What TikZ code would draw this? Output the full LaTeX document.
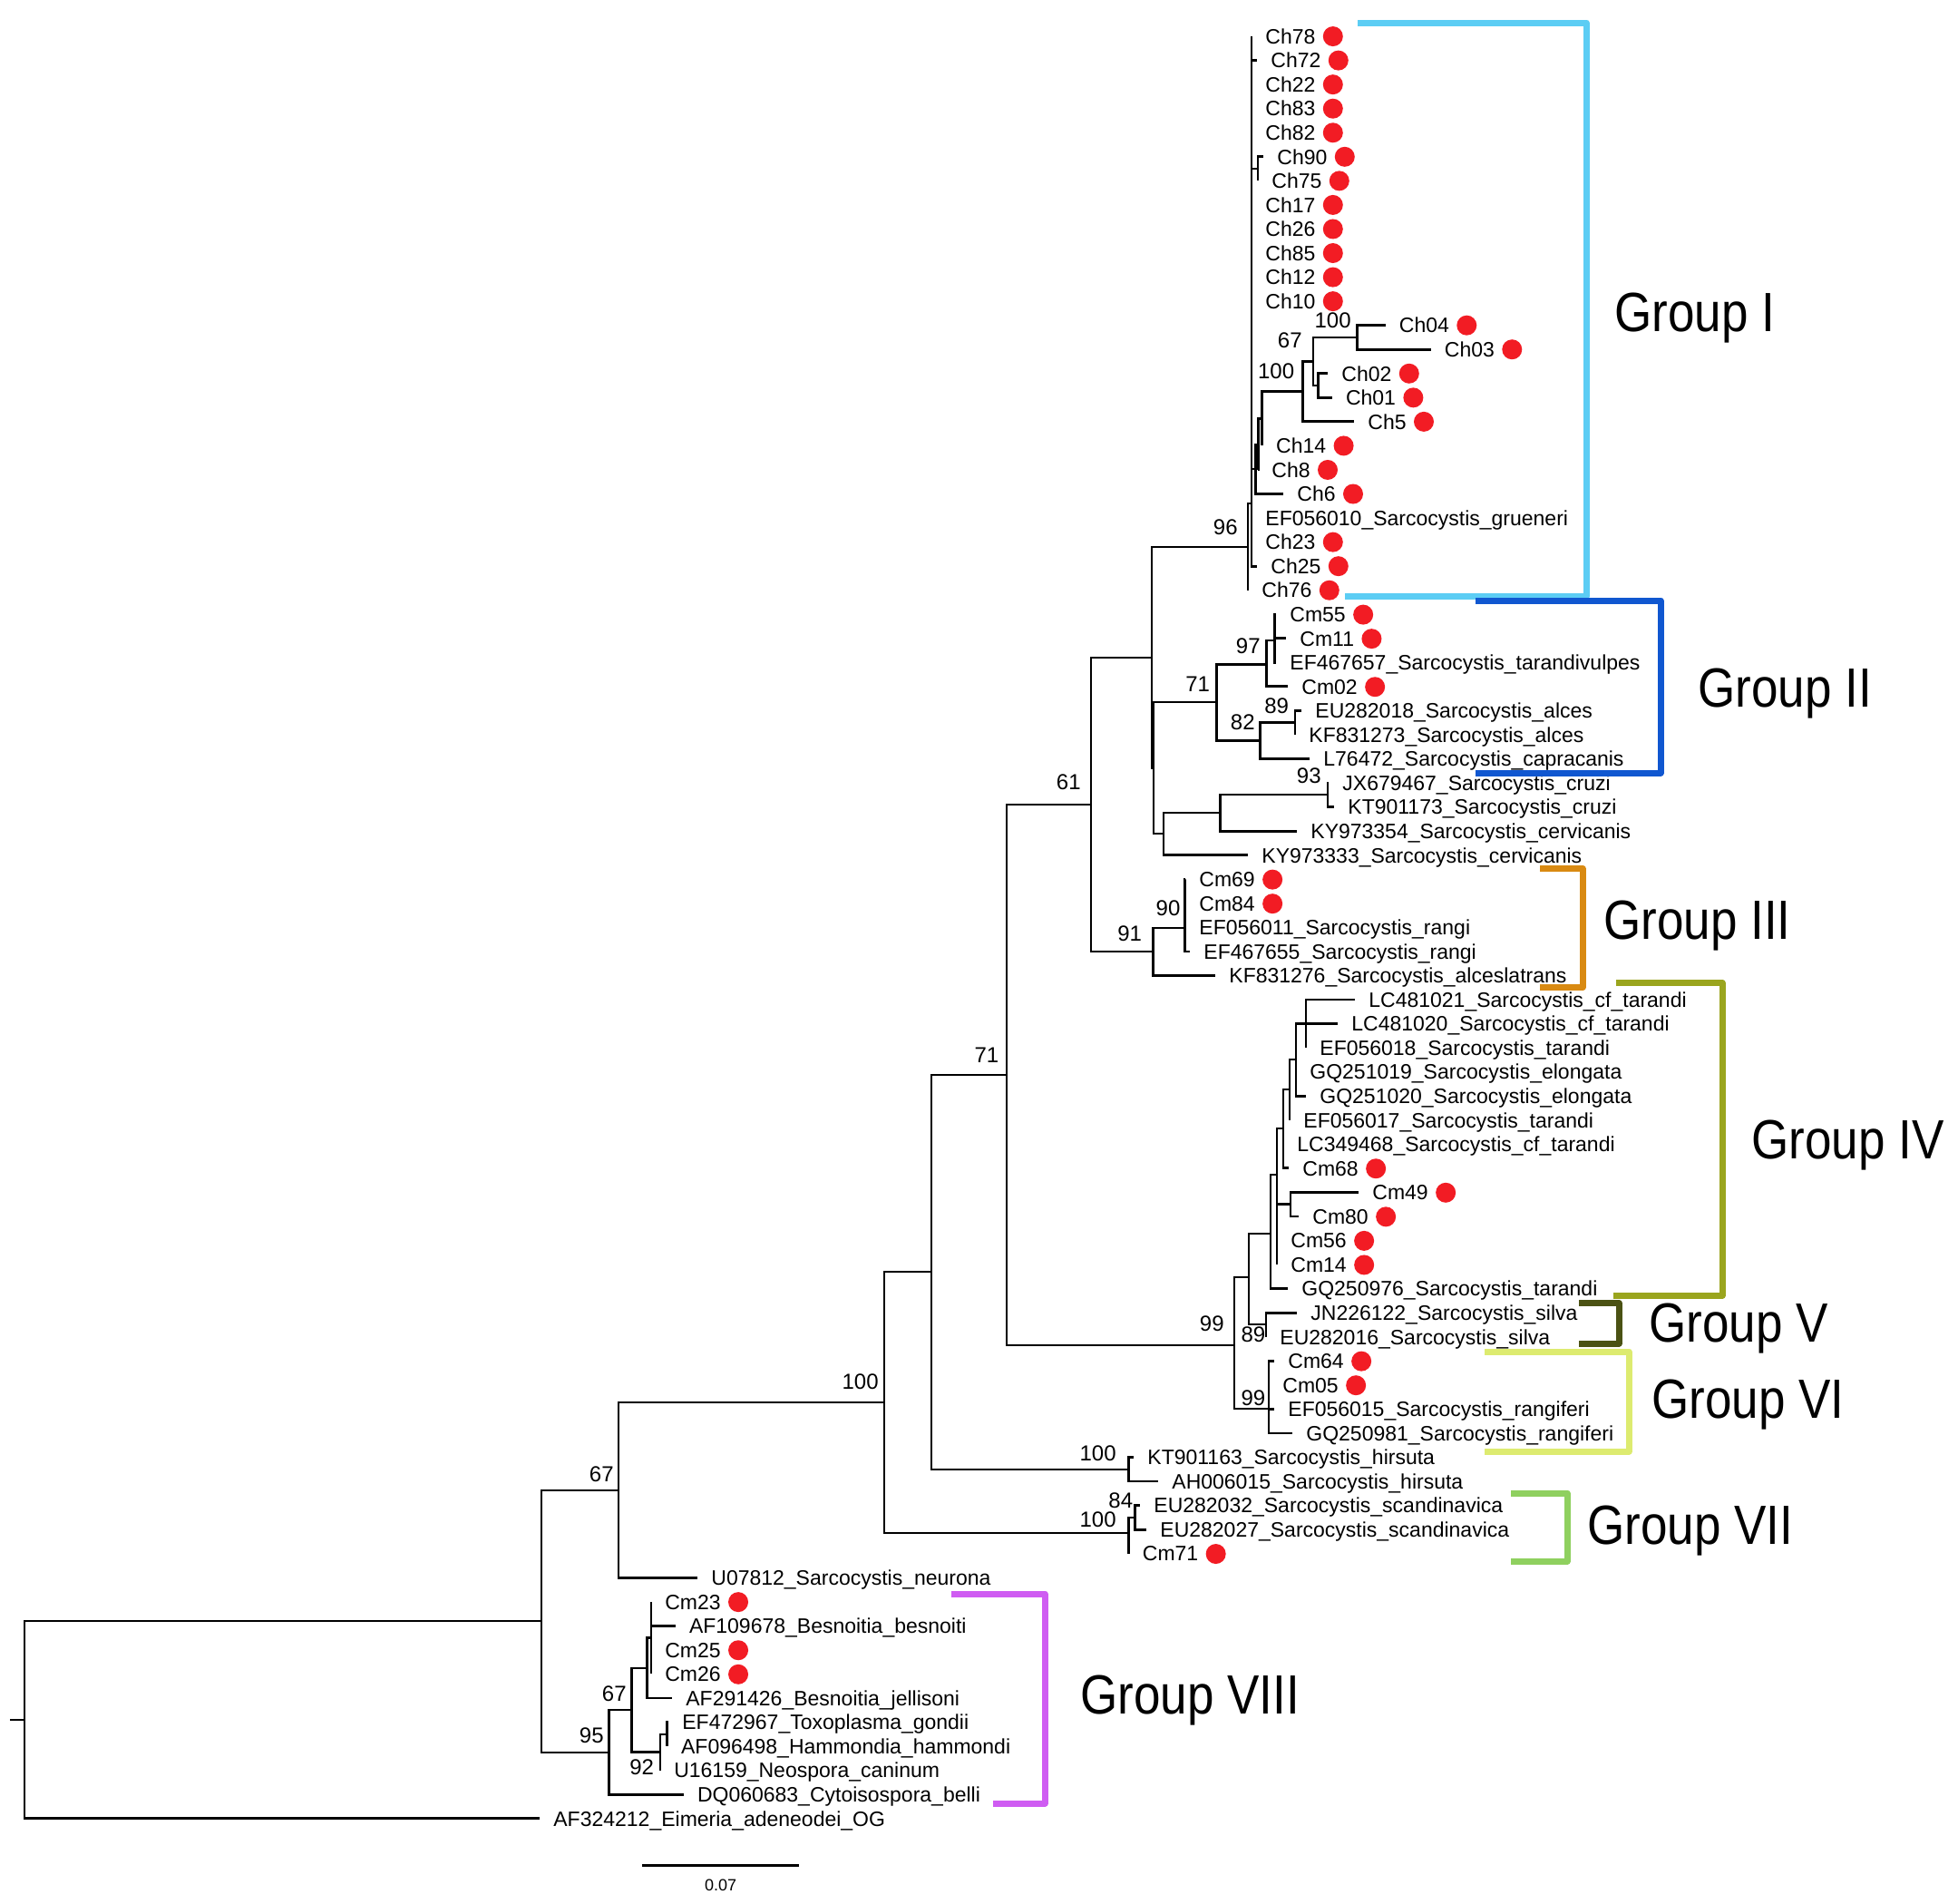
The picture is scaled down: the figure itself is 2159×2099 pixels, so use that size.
\documentclass[tikz,border=0pt]{standalone}
\usepackage{fontspec}
\setmainfont{Liberation Sans}
\usetikzlibrary{calc}
\definecolor{dotred}{RGB}{242,28,36}
\definecolor{gI}{RGB}{92,205,244}
\definecolor{gII}{RGB}{16,87,208}
\definecolor{gIII}{RGB}{217,138,18}
\definecolor{gIV}{RGB}{154,165,30}
\definecolor{gV}{RGB}{75,82,20}
\definecolor{gVI}{RGB}{221,235,112}
\definecolor{gVII}{RGB}{143,208,95}
\definecolor{gVIII}{RGB}{207,92,242}
\newcommand\leaf[5]{%
  \coordinate (#1) at (#3,{40+26.55*#2});
  \node[lbl] (#1t) at ({#3+15},{48.3+26.55*#2}) {#4};
  \ifnum#5=1\relax \node[dot] (#1d) at ([xshift=9.5pt]#1t.east) {};\fi
}
\newcommand\edges[2]{\foreach \c in {#2} {\draw[br] (#1) |- (\c);}}
\newcommand\glabel[4]{\node[glab] (#1) at (#2,#3) {\scalebox{1}[1.15]{#4}};}
\begin{document}
\begin{tikzpicture}[x=0.5pt,y=-0.5pt,
  br/.style={line width=1.4pt},
  lbl/.style={anchor=base west, inner sep=0pt, font=\fontsize{11.5}{13}\selectfont},
  bs/.style={anchor=east, inner sep=0pt, font=\fontsize{12}{14}\selectfont},
  dot/.style={circle, fill=dotred, inner sep=0pt, minimum size=11pt},
  grp/.style={line width=3.5pt, line join=round},
  glab/.style={anchor=base west, inner sep=0pt, font=\fontsize{26.5}{30}\selectfont}
]
\fill[white] (0,0) rectangle (2159,2099);
\useasboundingbox (0,0) rectangle (2159,2099);

% ---------- leaves ----------
\leaf{Ch78}{0}{1380}{Ch78}{1}
\leaf{Ch72}{1}{1386}{Ch72}{1}
\leaf{Ch22}{2}{1380}{Ch22}{1}
\leaf{Ch83}{3}{1380}{Ch83}{1}
\leaf{Ch82}{4}{1380}{Ch82}{1}
\leaf{Ch90}{5}{1393}{Ch90}{1}
\leaf{Ch75}{6}{1387}{Ch75}{1}
\leaf{Ch17}{7}{1380}{Ch17}{1}
\leaf{Ch26}{8}{1380}{Ch26}{1}
\leaf{Ch85}{9}{1380}{Ch85}{1}
\leaf{Ch12}{10}{1380}{Ch12}{1}
\leaf{Ch10}{11}{1380}{Ch10}{1}
\leaf{Ch04}{12}{1527.5}{Ch04}{1}
\leaf{Ch03}{13}{1577.5}{Ch03}{1}
\leaf{Ch02}{14}{1464}{Ch02}{1}
\leaf{Ch01}{15}{1468.6}{Ch01}{1}
\leaf{Ch5}{16}{1493}{Ch5}{1}
\leaf{Ch14}{17}{1391.8}{Ch14}{1}
\leaf{Ch8}{18}{1387}{Ch8}{1}
\leaf{Ch6}{19}{1415}{Ch6}{1}
\leaf{EFgru}{20}{1380}{EF056010\_Sarcocystis\_grueneri}{0}
\leaf{Ch23}{21}{1380}{Ch23}{1}
\leaf{Ch25}{22}{1386}{Ch25}{1}
\leaf{Ch76}{23}{1376}{Ch76}{1}
\leaf{Cm55}{24}{1407}{Cm55}{1}
\leaf{Cm11}{25}{1418}{Cm11}{1}
\leaf{EFtar}{26}{1407}{EF467657\_Sarcocystis\_tarandivulpes}{0}
\leaf{Cm02}{27}{1420}{Cm02}{1}
\leaf{EUalc}{28}{1435}{EU282018\_Sarcocystis\_alces}{0}
\leaf{KFalc}{29}{1428}{KF831273\_Sarcocystis\_alces}{0}
\leaf{Lcap}{30}{1444}{L76472\_Sarcocystis\_capracanis}{0}
\leaf{JXcru}{31}{1465}{JX679467\_Sarcocystis\_cruzi}{0}
\leaf{KTcru}{32}{1471}{KT901173\_Sarcocystis\_cruzi}{0}
\leaf{KYcerA}{33}{1430}{KY973354\_Sarcocystis\_cervicanis}{0}
\leaf{KYcerB}{34}{1376}{KY973333\_Sarcocystis\_cervicanis}{0}
\leaf{Cm69}{35}{1307}{Cm69}{1}
\leaf{Cm84}{36}{1307}{Cm84}{1}
\leaf{EFranA}{37}{1307}{EF056011\_Sarcocystis\_rangi}{0}
\leaf{EFranB}{38}{1312}{EF467655\_Sarcocystis\_rangi}{0}
\leaf{KFalt}{39}{1340}{KF831276\_Sarcocystis\_alceslatrans}{0}
\leaf{LCa}{40}{1494}{LC481021\_Sarcocystis\_cf\_tarandi}{0}
\leaf{LCb}{41}{1475}{LC481020\_Sarcocystis\_cf\_tarandi}{0}
\leaf{EFtaA}{42}{1440}{EF056018\_Sarcocystis\_tarandi}{0}
\leaf{GQelA}{43}{1429}{GQ251019\_Sarcocystis\_elongata}{0}
\leaf{GQelB}{44}{1440}{GQ251020\_Sarcocystis\_elongata}{0}
\leaf{EFtaB}{45}{1422}{EF056017\_Sarcocystis\_tarandi}{0}
\leaf{LCc}{46}{1415}{LC349468\_Sarcocystis\_cf\_tarandi}{0}
\leaf{Cm68}{47}{1421}{Cm68}{1}
\leaf{Cm49}{48}{1498}{Cm49}{1}
\leaf{Cm80}{49}{1432}{Cm80}{1}
\leaf{Cm56}{50}{1408}{Cm56}{1}
\leaf{Cm14}{51}{1408}{Cm14}{1}
\leaf{GQtar}{52}{1420}{GQ250976\_Sarcocystis\_tarandi}{0}
\leaf{JNsil}{53}{1430}{JN226122\_Sarcocystis\_silva}{0}
\leaf{EUsil}{54}{1396}{EU282016\_Sarcocystis\_silva}{0}
\leaf{Cm64}{55}{1405}{Cm64}{1}
\leaf{Cm05}{56}{1399}{Cm05}{1}
\leaf{EFrgf}{57}{1405}{EF056015\_Sarcocystis\_rangiferi}{0}
\leaf{GQrgf}{58}{1425}{GQ250981\_Sarcocystis\_rangiferi}{0}
\leaf{KThir}{59}{1250}{KT901163\_Sarcocystis\_hirsuta}{0}
\leaf{AHhir}{60}{1277}{AH006015\_Sarcocystis\_hirsuta}{0}
\leaf{EUscA}{61}{1257}{EU282032\_Sarcocystis\_scandinavica}{0}
\leaf{EUscB}{62}{1264}{EU282027\_Sarcocystis\_scandinavica}{0}
\leaf{Cm71}{63}{1244.5}{Cm71}{1}
\leaf{Uneu}{64}{769}{U07812\_Sarcocystis\_neurona}{0}
\leaf{Cm23}{65}{717.9}{Cm23}{1}
\leaf{AFbes}{66}{744.6}{AF109678\_Besnoitia\_besnoiti}{0}
\leaf{Cm25}{67}{717.9}{Cm25}{1}
\leaf{Cm26}{68}{717.9}{Cm26}{1}
\leaf{AFjel}{69}{741}{AF291426\_Besnoitia\_jellisoni}{0}
\leaf{EFtox}{70}{737}{EF472967\_Toxoplasma\_gondii}{0}
\leaf{AFham}{71}{735.7}{AF096498\_Hammondia\_hammondi}{0}
\leaf{Uneo}{72}{727.9}{U16159\_Neospora\_caninum}{0}
\leaf{DQcyt}{73}{753.6}{DQ060683\_Cytoisospora\_belli}{0}
\leaf{AFeim}{74}{595}{AF324212\_Eimeria\_adeneodei\_OG}{0}

% ---------- internal nodes ----------
\coordinate (r0) at (11,1896);
\coordinate (root) at (27,1896);
\coordinate (A) at (597,1787);
\coordinate (B) at (682,1643);
\coordinate (C) at (975,1546);
\coordinate (D) at (1027,1402);
\coordinate (E) at (1110,1185);
\coordinate (F) at (1203,887);
\coordinate (G) at (1270,725);
\coordinate (Gp) at (1272,847);
\coordinate (H) at (1376,603);
\coordinate (H2) at (1380,555);
\coordinate (N9075) at (1387,186);
\coordinate (N6) at (1384.6,517);
\coordinate (N8) at (1387.5,490);
\coordinate (N14) at (1391.8,461.5);
\coordinate (N100b) at (1436.4,431.6);
\coordinate (N67) at (1448,398.5);
\coordinate (N0403) at (1496.4,371.9);
\coordinate (N0201) at (1453.2,425);
\coordinate (N71) at (1341.6,774);
\coordinate (N97) at (1396.5,732.4);
\coordinate (NCm) at (1405.6,706);
\coordinate (N82) at (1389.8,816.6);
\coordinate (N89) at (1428,796.7);
\coordinate (NC) at (1283,919);
\coordinate (Nc2) at (1345.5,896);
\coordinate (N93) at (1464,876);
\coordinate (N91) at (1271.4,1049);
\coordinate (N90) at (1306.3,1023);
\coordinate (N99) at (1361,1483);
\coordinate (Ng) at (1377,1408);
\coordinate (Nf) at (1401,1360);
\coordinate (Ne) at (1408,1295);
\coordinate (Nd) at (1415,1244);
\coordinate (Nc) at (1422,1201);
\coordinate (Nb) at (1429,1168);
\coordinate (Na) at (1440,1128.6);
\coordinate (Ncm) at (1423,1327.7);
\coordinate (Nsil) at (1396,1460);
\coordinate (NVI) at (1399,1553);
\coordinate (Nhir) at (1244.5,1620);
\coordinate (N100s) at (1244.5,1690);
\coordinate (N84) at (1251.6,1673);
\coordinate (N95) at (671.4,1932);
\coordinate (N67b) at (696.4,1885);
\coordinate (Nbes) at (713.6,1839);
\coordinate (Nbes2) at (717.9,1805.6);
\coordinate (N92) at (727.9,1931.7);
\coordinate (N92i) at (735.7,1912);

% ---------- branches ----------
\draw[br] (r0) -- (root);
\edges{root}{A,AFeim}
\edges{A}{B,N95}
\edges{B}{C,Uneu}
\edges{C}{D,N100s}
\edges{D}{E,Nhir}
\edges{E}{F,N99}
\edges{F}{G,N91}
\edges{G}{H,Gp}
\edges{Gp}{N71,NC}
\edges{H}{H2,Ch76}
\edges{H2}{Ch78,Ch72,Ch22,Ch83,Ch82,N9075,Ch17,Ch26,Ch85,Ch12,Ch10,N6,EFgru,Ch23,Ch25}
\edges{N9075}{Ch90,Ch75}
\edges{N6}{N8,Ch6}
\edges{N8}{N14,Ch8}
\edges{N14}{N100b,Ch14}
\edges{N100b}{N67,Ch5}
\edges{N67}{N0403,N0201}
\edges{N0403}{Ch04,Ch03}
\edges{N0201}{Ch02,Ch01}
\edges{N71}{N97,N82}
\edges{N97}{NCm,Cm02}
\edges{NCm}{Cm55,Cm11,EFtar}
\edges{N82}{N89,Lcap}
\edges{N89}{EUalc,KFalc}
\edges{NC}{Nc2,KYcerB}
\edges{Nc2}{N93,KYcerA}
\edges{N93}{JXcru,KTcru}
\edges{N91}{N90,KFalt}
\edges{N90}{Cm69,Cm84,EFranA,EFranB}
\edges{N99}{Ng,NVI}
\edges{Ng}{Nf,Nsil}
\edges{Nf}{Ne,GQtar}
\edges{Ne}{Nd,Ncm,Cm56,Cm14}
\edges{Nd}{Nc,LCc,Cm68}
\edges{Nc}{Nb,EFtaB}
\edges{Nb}{Na,GQelA,GQelB}
\edges{Na}{LCa,LCb,EFtaA}
\edges{Ncm}{Cm49,Cm80}
\edges{Nsil}{JNsil,EUsil}
\edges{NVI}{Cm64,Cm05,EFrgf,GQrgf}
\edges{Nhir}{KThir,AHhir}
\edges{N100s}{N84,Cm71}
\edges{N84}{EUscA,EUscB}
\edges{N95}{N67b,DQcyt}
\edges{N67b}{Nbes,N92}
\edges{Nbes}{Nbes2,AFjel}
\edges{Nbes2}{Cm23,AFbes,Cm25,Cm26}
\edges{N92}{N92i,Uneo}
\edges{N92i}{EFtox,AFham}

% ---------- bootstrap values ----------
\node[bs] (b1) at (1490,353) {100};
\node[bs] (b2) at (1436,375) {67};
\node[bs] (b3) at (1427.5,409) {100};
\node[bs] (b4) at (1365,581.5) {96};
\node[bs] (b5) at (1390,712.5) {97};
\node[bs] (b6) at (1334.4,754) {71};
\node[bs] (b7) at (1421.4,778.5) {89};
\node[bs] (b8) at (1384,796) {82};
\node[bs] (b9) at (1457,855) {93};
\node[bs] (b10) at (1192,862) {61};
\node[bs] (b11) at (1259.4,1029) {91};
\node[bs] (b12) at (1301.8,1001) {90};
\node[bs] (b13) at (1101.6,1163) {71};
\node[bs] (b14) at (969,1523) {100};
\node[bs] (b15) at (677,1625.5) {67};
\node[bs] (b16) at (1350,1459) {99};
\node[bs] (b17) at (1395.7,1471.5) {89};
\node[bs] (b18) at (1395.7,1541) {99};
\node[bs] (b19) at (1231,1602.5) {100};
\node[bs] (b20) at (1249.5,1654.5) {84};
\node[bs] (b21) at (1231,1675) {100};
\node[bs] (b22) at (666,1913.5) {95};
\node[bs] (b23) at (691,1867.5) {67};
\node[bs] (b24) at (721.4,1948.5) {92};

% ---------- group brackets ----------
\draw[grp,gI] (1497,25) -- (1749,25) -- (1749,657) -- (1483,657);
\draw[grp,gII] (1627,662) -- (1831,662) -- (1831,852) -- (1627,852);
\draw[grp,gIII] (1698,957.6) -- (1745,957.6) -- (1745,1088.5) -- (1698,1088.5);
\draw[grp,gIV] (1782,1083.6) -- (1899,1083.6) -- (1899,1428) -- (1779,1428);
\draw[grp,gV] (1741.4,1436.5) -- (1785,1436.5) -- (1785,1481) -- (1741.4,1481);
\draw[grp,gVI] (1637,1490) -- (1796,1490) -- (1796,1600) -- (1637,1600);
\draw[grp,gVII] (1666,1646) -- (1728,1646) -- (1728,1721) -- (1666,1721);
\draw[grp,gVIII] (1049,1757) -- (1152,1757) -- (1152,1988) -- (1095,1988);

% ---------- group labels ----------
\glabel{gl1}{1780}{365}{Group I}
\glabel{gl2}{1872}{779}{Group II}
\glabel{gl3}{1768}{1035}{Group III}
\glabel{gl4}{1931}{1277}{Group IV}
\glabel{gl5}{1818}{1479}{Group V}
\glabel{gl6}{1821}{1563.5}{Group VI}
\glabel{gl7}{1750}{1702}{Group VII}
\glabel{gl8}{1191}{1889}{Group VIII}

% ---------- scale bar ----------
\coordinate (sb1) at (708,2056.7);
\coordinate (sb2) at (881,2056.7);
\draw[line width=1.4pt] (sb1) -- (sb2);
\node[inner sep=0pt, font=\fontsize{9}{10}\selectfont] (sbl) at (794.6,2078) {0.07};
\end{tikzpicture}
\end{document}
